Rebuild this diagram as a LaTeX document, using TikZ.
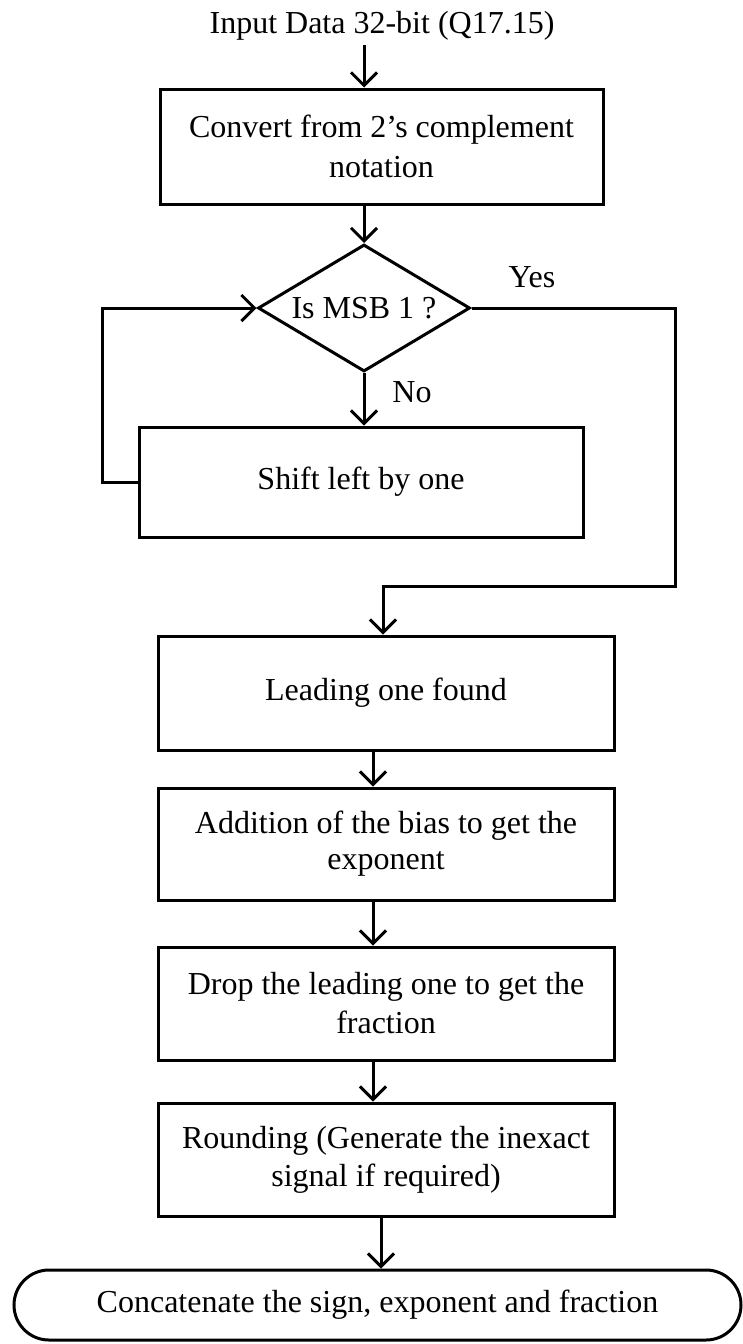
\documentclass[tikz,border=0pt]{standalone}
\usepackage{fontspec}
\setmainfont{Liberation Serif}
\usetikzlibrary{shapes.geometric,arrows.meta,calc}
\begin{document}
\begin{tikzpicture}[x=1pt,y=-1pt,
  font=\fontsize{32}{38}\selectfont,
  boxnode/.style={draw,line width=3pt,rectangle,align=center,inner sep=0pt},
  decision/.style={draw,line width=3pt,diamond,aspect=1.67,inner sep=0pt,minimum width=212pt,minimum height=127pt},
  terminal/.style={draw,line width=3pt,rectangle,rounded corners=35pt,inner sep=0pt},
  conn/.style={line width=3pt,line join=miter},
  arr/.style={conn,-{Straight Barb[length=13pt,width=26pt,line width=3pt]}},
  lbl/.style={inner sep=0pt},
]
\useasboundingbox (0,0) rectangle (743,1344);

% nodes
\node[inner sep=4pt] (in) at (382,26) {Input Data 32-bit (Q17.15)};
\node[boxnode,minimum width=443pt,minimum height=115pt,font=\fontsize{32}{40}\selectfont] (b1) at (381.5,146.5)
  {Convert from 2's complement\\notation};
\node[decision] (d) at (364,308) {Is MSB 1 ?};
\node[boxnode,minimum width=444pt,minimum height=110pt] (b2) at (361,482) {Shift left by one};
\node[boxnode,minimum width=456pt,minimum height=114pt] (b3) at (386,693) {Leading one found};
\node[boxnode,minimum width=456pt,minimum height=112pt,font=\fontsize{32}{36}\selectfont] (b4) at (386,844)
  {Addition of the bias to get the\\exponent};
\node[boxnode,minimum width=456pt,minimum height=113pt,font=\fontsize{32}{39}\selectfont] (b5) at (386,1003.5)
  {Drop the leading one to get the\\fraction};
\node[boxnode,minimum width=456pt,minimum height=113pt] (b6) at (386,1159.5)
  {Rounding (Generate the inexact\\signal if required)};
\node[terminal,minimum width=727pt,minimum height=70pt] (t) at (377.5,1305)
  {Concatenate the sign, exponent and fraction};

\node[lbl] (yes) at (532,277) {Yes};
\node[lbl] (no) at (412,392) {No};

% helper coordinates
\coordinate (ax1) at (364,0);
\coordinate (ax2) at (383,0);
\coordinate (ax3) at (373,0);
\coordinate (ax4) at (381,0);
\coordinate (lx) at (102,0);
\coordinate (rx) at (675,0);
\coordinate (ry) at (0,586);

% connectors
\draw[arr] (in.south -| ax1) -- (b1.north -| ax1);
\draw[arr] (b1.south -| ax1) -- (d.north);
\draw[arr] (d.south) -- (d.south |- b2.north);
\draw[arr] (b2.west) -- (b2.west -| lx) |- (d.west);
\draw[arr] (d.east) -- (d.east -| rx) -- (rx |- ry) -- (ax2 |- ry) -- (ax2 |- b3.north);
\draw[arr] (b3.south -| ax3) -- (b4.north -| ax3);
\draw[arr] (b4.south -| ax3) -- (b5.north -| ax3);
\draw[arr] (b5.south -| ax3) -- (b6.north -| ax3);
\draw[arr] (b6.south -| ax4) -- (t.north -| ax4);
\end{tikzpicture}
\end{document}
